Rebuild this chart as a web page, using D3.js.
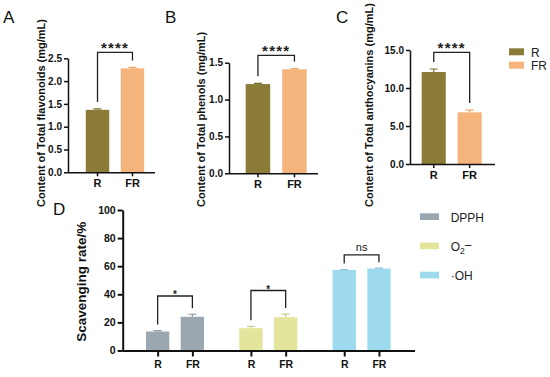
<!DOCTYPE html>
<html><head><meta charset="utf-8">
<script src="https://cdn.jsdelivr.net/npm/d3@7/dist/d3.min.js"></script>
<style>
html,body{margin:0;padding:0;background:#fff;}
svg{display:block;font-family:"Liberation Sans",Arial,sans-serif;}
</style></head>
<body><svg id="c" width="550" height="377"></svg>
<script>
// ---------- data ----------
const groups = ["R", "FR"];
const flavonoids = [1.37, 2.28];
const flavonoidsErr = [0.02, 0.02];
const phenols = [1.21, 1.41];
const phenolsErr = [0.01, 0.01];
const anthocyanins = [12.1, 6.8];
const anthocyaninsErr = [0.4, 0.3];
const ticksA = [0, 0.5, 1.0, 1.5, 2.0, 2.5];
const ticksB = [0, 0.5, 1.0, 1.5];
const ticksC = [0, 5, 10, 15];
const sigTop = ["****", "****", "****"];
const bracketLevelsABC = [2.63, 1.60, 14.7];

const assays = ["DPPH", "O2", "OH"];
const scavR = [13.5, 15.9, 57.3];
const scavRErr = [0.7, 1.3, 0.3];
const scavFR = [24.0, 23.7, 58.3];
const scavFRErr = [1.8, 2.2, 0.3];
const ticksD = [0, 20, 40, 60, 80, 100];
const sigD = ["*", "*", "ns"];
const bracketLevelsD = [38.8, 42.7, 68];

// ---------- styles ----------
const colR = "#8A7B37", colFR = "#F4B47C";
const assayColors = ["#9BA7B0", "#E4E59D", "#9DDAEE"];
const svg = d3.select("#c");

function bracket(g, x1, x2, yTop, y1, y2, label, starSize, isNs) {
  g.append("path")
    .attr("d", `M${x1},${y1}V${yTop}H${x2}V${y2}`)
    .attr("fill", "none").attr("stroke", "#222").attr("stroke-width", 1.3);
  const t = g.append("text").attr("x", (x1 + x2) / 2).attr("text-anchor", "middle").text(label);
  if (isNs) {
    t.attr("y", yTop - 3.5).attr("font-size", 11).attr("fill", "#222");
  } else {
    t.attr("y", yTop + (starSize > 12 ? 0.5 : 2.5)).attr("font-size", starSize)
     .attr("font-weight", "bold").attr("fill", "#222")
     .attr("letter-spacing", starSize > 12 ? 1.2 : 0);
  }
}

function panel(cfg) {
  const g = svg.append("g");
  const y = d3.scaleLinear().domain([0, cfg.max]).range([cfg.y0, cfg.y1]);
  const x = d3.scaleBand().domain(groups).range([cfg.b0, cfg.b1]).paddingInner(0.33).paddingOuter(0);
  // bars
  g.selectAll("rect.bar").data(cfg.values).join("rect")
    .attr("x", (d, i) => x(groups[i])).attr("width", x.bandwidth())
    .attr("y", d => y(d)).attr("height", d => y(0) - y(d))
    .attr("fill", (d, i) => i === 0 ? colR : colFR);
  // error bars (upper)
  cfg.values.forEach((v, i) => {
    const cx = x(groups[i]) + x.bandwidth() / 2;
    const c = i === 0 ? "#7a6c2e" : "#eda56a";
    g.append("path").attr("d", `M${cx},${y(v)}V${y(v + cfg.err[i])}M${cx - 4},${y(v + cfg.err[i])}H${cx + 4}`)
      .attr("stroke", c).attr("stroke-width", 1.2).attr("fill", "none");
  });
  // y axis
  const ya = g.append("g").attr("transform", `translate(${cfg.ax},0)`)
    .call(d3.axisLeft(y).tickValues(cfg.ticks).tickFormat(d3.format(".1f")).tickSize(4).tickSizeOuter(0).tickPadding(2));
  ya.selectAll("text").attr("font-size", 10).attr("font-weight", "bold").attr("fill", "#111").attr("font-family", "Liberation Sans, Arial, sans-serif");
  ya.selectAll("line,path").attr("stroke", "#111").attr("stroke-width", 1.5);
  // x axis
  const xa = g.append("g").attr("transform", `translate(0,${cfg.y0})`)
    .call(d3.axisBottom(x).tickSize(4).tickSizeOuter(0).tickPadding(3));
  xa.select("path.domain").attr("d", `M${cfg.ax},0.5H${cfg.axEnd}`);
  xa.selectAll("line,path").attr("stroke", "#111").attr("stroke-width", 1.5);
  xa.selectAll("text").attr("font-size", 11).attr("font-weight", "bold").attr("fill", "#111").attr("font-family", "Liberation Sans, Arial, sans-serif");
  // y title
  g.append("text").attr("transform", `translate(${cfg.titleX},207) rotate(-90)`)
    .attr("text-anchor", "start").attr("font-size", 11).attr("font-weight", "bold").attr("fill", "#111")
    .text(cfg.title);
  // letter
  g.append("text").attr("x", cfg.letterX).attr("y", 23).attr("font-size", 17).attr("fill", "#111").text(cfg.letter);
  // bracket
  const cR = x("R") + x.bandwidth() / 2, cF = x("FR") + x.bandwidth() / 2;
  bracket(g, cR, cF, y(cfg.level), y(cfg.values[0] + cfg.err[0]) - 7, y(cfg.values[1] + cfg.err[1]) - 7, cfg.sig, 15, false);
}

panel({letter: "A", letterX: 3, title: "Content of Total flavonoids (mg/mL)", titleX: 45,
  values: flavonoids, err: flavonoidsErr, max: 2.5, ticks: ticksA, y0: 172.3, y1: 58.3,
  ax: 68, axEnd: 155, b0: 85.8, b1: 144.2, level: bracketLevelsABC[0], sig: sigTop[0]});
panel({letter: "B", letterX: 165, title: "Content of Total phenols (mg/mL)", titleX: 205,
  values: phenols, err: phenolsErr, max: 1.5, ticks: ticksB, y0: 173.3, y1: 62.7,
  ax: 229, axEnd: 318, b0: 245.7, b1: 306.7, level: bracketLevelsABC[1], sig: sigTop[1]});
panel({letter: "C", letterX: 336, title: "Content of Total anthocyanins (mg/mL)", titleX: 373,
  values: anthocyanins, err: anthocyaninsErr, max: 15, ticks: ticksC, y0: 164, y1: 50,
  ax: 410, axEnd: 495, b0: 421.7, b1: 481.7, level: bracketLevelsABC[2], sig: sigTop[2]});

// legend for A-C
const lg = svg.append("g");
groups.forEach((gname, i) => {
  lg.append("rect").attr("x", 509).attr("y", 48.3 + i * 13.4).attr("width", 15).attr("height", 7)
    .attr("fill", i === 0 ? colR : colFR);
  lg.append("text").attr("x", 531).attr("y", 56.5 + i * 13.4).attr("font-size", 12).attr("fill", "#222").text(gname);
});

// ---------- panel D ----------
const gD = svg.append("g");
const yD = d3.scaleLinear().domain([0, 100]).range([350.5, 210]);
const x0 = d3.scaleBand().domain(assays).range([146, 390.6]).paddingInner(0.378).paddingOuter(0);
const x1 = d3.scaleBand().domain(groups).range([0, x0.bandwidth()]).paddingInner(0.33).paddingOuter(0);
const dData = [];
assays.forEach((a, i) => {
  dData.push({a, i, g: "R", v: scavR[i], e: scavRErr[i]});
  dData.push({a, i, g: "FR", v: scavFR[i], e: scavFRErr[i]});
});
gD.selectAll("rect.bar").data(dData).join("rect")
  .attr("x", d => x0(d.a) + x1(d.g)).attr("width", x1.bandwidth())
  .attr("y", d => yD(d.v)).attr("height", d => yD(0) - yD(d.v))
  .attr("fill", d => assayColors[d.i]);
dData.forEach(d => {
  const cx = x0(d.a) + x1(d.g) + x1.bandwidth() / 2;
  const c = d3.color(assayColors[d.i]).darker(0.3);
  gD.append("path").attr("d", `M${cx},${yD(d.v)}V${yD(d.v + d.e)}M${cx - 4},${yD(d.v + d.e)}H${cx + 4}`)
    .attr("stroke", c).attr("stroke-width", 1.2).attr("fill", "none");
});
// y axis D
const yaD = gD.append("g").attr("transform", "translate(122.7,0)")
  .call(d3.axisLeft(yD).tickValues(ticksD).tickSize(5).tickSizeOuter(0).tickPadding(2));
yaD.selectAll("text").attr("font-size", 10.5).attr("font-weight", "bold").attr("fill", "#111").attr("font-family", "Liberation Sans, Arial, sans-serif");
yaD.selectAll("line,path").attr("stroke", "#111").attr("stroke-width", 2);
// x axis D
const tickPos = dData.map(d => x0(d.a) + x1(d.g) + x1.bandwidth() / 2);
const xLin = d3.scaleIdentity();
const xaD = gD.append("g").attr("transform", "translate(0,350.5)")
  .call(d3.axisBottom(xLin).tickValues(tickPos).tickFormat((d, i) => dData[i].g).tickSize(6).tickSizeOuter(0).tickPadding(4));
xaD.select("path.domain").attr("d", "M122.7,0.5H415");
xaD.selectAll("line,path").attr("stroke", "#111").attr("stroke-width", 2);
xaD.selectAll("text").attr("font-size", 10.5).attr("font-weight", "bold").attr("fill", "#111").attr("font-family", "Liberation Sans, Arial, sans-serif");
// title D
gD.append("text").attr("transform", "translate(86,281.7) rotate(-90)").attr("text-anchor", "middle")
  .attr("font-size", 13.5).attr("font-weight", "bold").attr("fill", "#111").text("Scavenging rate/%");
gD.append("text").attr("x", 53).attr("y", 215).attr("font-size", 17).attr("fill", "#111").text("D");
// brackets D
assays.forEach((a, i) => {
  const cR = x0(a) + x1("R") + x1.bandwidth() / 2;
  const cF = x0(a) + x1("FR") + x1.bandwidth() / 2;
  bracket(gD, cR, cF, yD(bracketLevelsD[i]), yD(scavR[i] + scavRErr[i]) - 6, yD(scavFR[i] + scavFRErr[i]) - 6,
    sigD[i], 10, sigD[i] === "ns");
});
// legend D
const lgD = svg.append("g");
assays.forEach((a, i) => {
  lgD.append("rect").attr("x", 420).attr("y", 213.3 + i * 29.2).attr("width", 19).attr("height", 6.7).attr("fill", assayColors[i]);
  const t = lgD.append("text").attr("x", 450.7).attr("y", 221.5 + i * 29.2).attr("font-size", 12).attr("fill", "#222");
  if (a === "O2") {
    t.append("tspan").text("O");
    t.append("tspan").attr("font-size", 8.5).attr("dy", 3).text("2");
    t.append("tspan").attr("dy", -5).text("–");
  } else if (a === "OH") {
    t.text("·OH");
  } else {
    t.text(a);
  }
});
</script></body></html>
